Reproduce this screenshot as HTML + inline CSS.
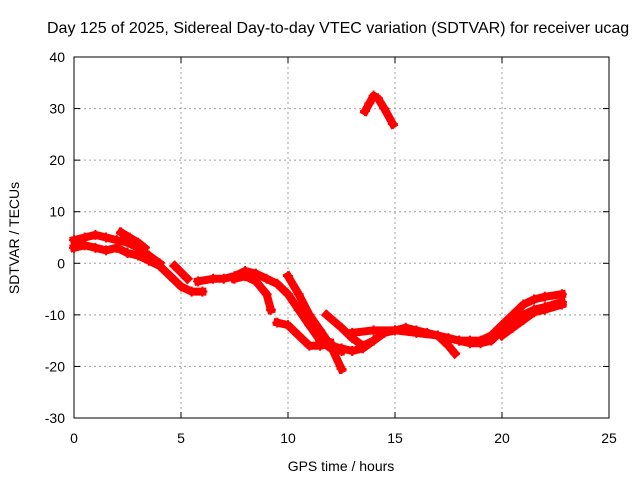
<!DOCTYPE html>
<html><head><meta charset="utf-8"><style>
body{margin:0;background:#fff}
svg{display:block;font-family:"Liberation Sans",sans-serif}
</style></head><body>
<svg id="chart" width="640" height="480">
<text x="47" y="33" font-size="16">Day 125 of 2025, Sidereal Day-to-day VTEC variation (SDTVAR) for receiver ucag</text>
<g id="grid"></g><g id="axes"></g><g id="data"></g>
<text x="341" y="471" font-size="14" text-anchor="middle">GPS time / hours</text>
<text transform="translate(19,238) rotate(-90)" font-size="14" text-anchor="middle">SDTVAR / TECUs</text>
</svg>
<script>
const xTicks=[0,5,10,15,20,25];
const yTicks=[-30,-20,-10,0,10,20,30,40];
const trackA=[[0,3],[0.5,3.5],[1,3],[1.5,2.5],[2,3],[2.5,2],[3,1.5],[3.5,0.5],[4,-0.5],[4.5,-2.5],[5,-4.5],[5.5,-5.5],[6,-5.5]];
const trackB=[[0,4.5],[0.5,5],[1,5.5],[1.5,5],[2,4.5],[2.5,4],[3,3],[3.5,1.5],[4,0]];
const trackC=[[4.7,-0.5],[5.3,-3]];
const trackD=[[5.8,-3.5],[6.5,-3],[7,-3],[7.5,-2.5],[8,-1.5],[8.5,-2],[9,-3],[9.5,-4],[10,-6],[10.5,-9],[11,-12],[11.5,-15],[12,-16.5],[12.5,-17]];
const trackE=[[7.5,-3],[8,-2.5],[8.5,-3.5],[9,-6],[9.2,-9]];
const trackF=[[9.5,-11.5],[10,-12],[10.5,-14],[11,-16],[11.5,-16],[12,-15.5]];
const trackG=[[10,-2.5],[10.5,-6],[11,-10],[11.5,-13],[12,-16],[12.5,-20.5]];
const trackH=[[11.8,-10],[12.5,-12.5],[13,-14.5],[13.5,-16],[14,-15],[14.5,-13.5],[15,-13],[15.5,-12.5],[16,-13],[16.5,-13.5],[17,-14],[17.5,-14.5],[18,-15],[18.5,-15],[19,-15],[19.5,-14],[20,-12],[20.5,-10],[21,-8],[21.5,-7],[22,-6.5],[22.8,-6]];
const trackI=[[10.5,-9],[11,-12],[11.5,-14.5],[12,-16],[12.5,-16.5],[13,-17],[13.5,-16.5],[14,-15]];
const trackJ=[[13,-13.5],[14,-13],[15,-13],[16,-13.5],[17,-14],[17.5,-16],[17.8,-17.5]];
const trackK=[[18,-15],[18.5,-15.5],[19,-15.5],[19.5,-15],[20,-13],[20.5,-11],[21,-10],[21.5,-9],[22,-8.5],[22.8,-7.5]];
const trackL=[[20,-14],[20.5,-12.5],[21,-11],[21.5,-9.5],[22,-9],[22.8,-8]];
const trackM=[[13.6,29.5],[13.8,31],[14,32.5],[14.2,32],[14.5,30],[14.9,27]];
const trackN=[[2.2,6],[2.6,5],[3,4],[3.3,3]];
const tracks=[trackA,trackB,trackC,trackD,trackE,trackF,trackG,trackH,trackI,trackJ,trackK,trackL,trackM,trackN];
const X0=74,X1=609,Y0=418,Y1=57;
const sx=h=>X0+(h-0)/25*(X1-X0);
const sy=v=>Y0-(v+30)/70*(Y0-Y1);
const NS="http://www.w3.org/2000/svg";
function mk(t,a,p){const e=document.createElementNS(NS,t);for(const k in a)e.setAttribute(k,a[k]);p.appendChild(e);return e;}
const grid=document.getElementById('grid'),axes=document.getElementById('axes'),data=document.getElementById('data');
xTicks.forEach(t=>{const x=sx(t);
 if(t>0&&t<25){const g=mk('line',{x1:x,x2:x,y1:Y1,y2:Y0,stroke:'#a0a0a0','stroke-dasharray':'2,3'},grid);
 
 }
 mk('line',{x1:x,x2:x,y1:Y0,y2:Y0-6,stroke:'#000'},axes);
 mk('line',{x1:x,x2:x,y1:Y1,y2:Y1+6,stroke:'#000'},axes);
 const l=mk('text',{x:x,y:Y0+25,'font-size':14,'text-anchor':'middle'},axes);l.textContent=t;
 
 });
yTicks.forEach(t=>{const y=sy(t);
 if(t>-30&&t<40){const g=mk('line',{x1:X0,x2:X1,y1:y,y2:y,stroke:'#a0a0a0','stroke-dasharray':'2,3'},grid);
 
 }
 mk('line',{x1:X0,x2:X0+6,y1:y,y2:y,stroke:'#000'},axes);
 mk('line',{x1:X1,x2:X1-6,y1:y,y2:y,stroke:'#000'},axes);
 const l=mk('text',{x:X0-9,y:y+5,'font-size':14,'text-anchor':'end'},axes);l.textContent=t;
 
 });
const fr=mk('rect',{x:X0,y:Y1,width:X1-X0,height:Y0-Y1,fill:'none',stroke:'#000'},axes);


tracks.forEach(tr=>{
 const pl=mk('polyline',{points:tr.map(p=>sx(p[0])+','+sy(p[1])).join(' '),fill:'none',stroke:'#ff0000','stroke-width':8,'stroke-linejoin':'round','stroke-linecap':'square'},data);
 
 
 tr.forEach(p=>{const x=sx(p[0]),y=sy(p[1]);
  const m=mk('path',{d:`M${x-5},${y}H${x+5}M${x},${y-5}V${y+5}`,stroke:'#ff0000','stroke-width':2},data);
  
  });
});
</script>
</body></html>
